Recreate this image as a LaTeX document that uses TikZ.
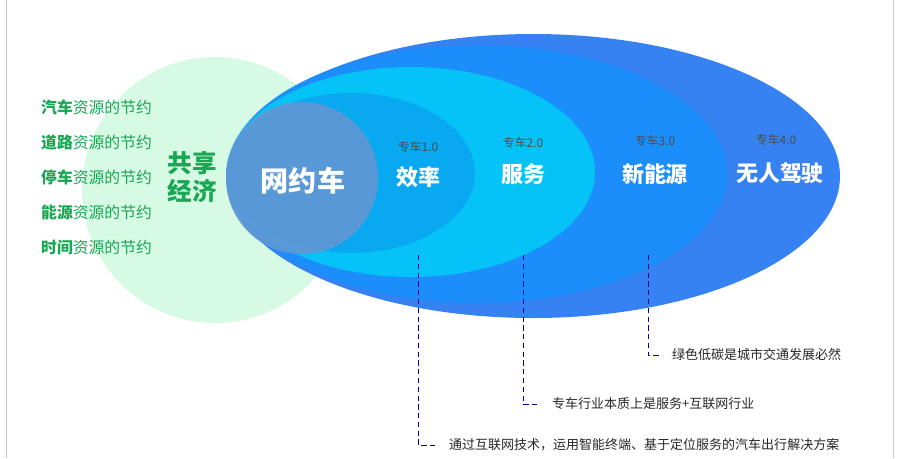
\documentclass[tikz,border=0pt]{standalone}
\usepackage{fontspec}
\setmainfont{Noto Sans CJK SC}
\definecolor{leafgreen}{HTML}{18A752}
\definecolor{mint}{HTML}{D6FAE4}
\definecolor{deepblue}{HTML}{2B7BF2}
\definecolor{midblue}{HTML}{1A8FFC}
\definecolor{skycyan}{HTML}{05C6F7}
\definecolor{innerblue}{HTML}{0AA8F2}
\definecolor{carblue}{HTML}{5E98D6}
\tikzset{
  saving/.style={anchor=west,text=leafgreen,font=\fontsize{9}{9}\selectfont},
  stage/.style={text=white,font=\bfseries\fontsize{12.5}{12.5}\selectfont},
  version/.style={text=black!70,font=\fontsize{6.8}{6.8}\selectfont},
  note/.style={anchor=west,text=black!85,font=\fontsize{7.4}{7.4}\selectfont},
  leader/.style={draw=blue!60!black,densely dashed,line width=0.5pt,shorten >=4pt}
}
\begin{document}
\begin{tikzpicture}[x=0.02cm,y=-0.02cm]
\useasboundingbox (0,0) rectangle (902,458);
\draw[black!20] (6,0) -- (6,458);
\draw[black!20] (893,0) -- (893,458);

% circles and ellipses
\fill[mint] (215,190) circle (133);
\fill[deepblue,opacity=0.95] (533,176) ellipse [x radius=307, y radius=142];
\fill[midblue,opacity=0.95] (477,174) ellipse [x radius=250, y radius=129];
\fill[skycyan,opacity=0.95] (411,172) ellipse [x radius=184, y radius=105];
\fill[innerblue,opacity=0.95] (351,173) ellipse [x radius=124, y radius=80];
\fill[carblue,opacity=0.95] (302,178) circle (76);

\node[saving] (s1) at (35,107) {\textbf{汽车}资源的节约};
\node[saving] (s2) at (35,142) {\textbf{道路}资源的节约};
\node[saving] (s3) at (35,177) {\textbf{停车}资源的节约};
\node[saving] (s4) at (35,212) {\textbf{能源}资源的节约};
\node[saving] (s5) at (35,247) {\textbf{时间}资源的节约};
\node[text=leafgreen,font=\bfseries\fontsize{14}{16}\selectfont,align=center] (share) at (192,177) {共享\\经济};

\node[text=white,font=\bfseries\fontsize{16}{16}\selectfont] (car) at (303,181) {网约车};
\node[version] (v1) at (418,147) {专车1.0};
\node[stage] (eff) at (418,177) {效率};
\node[version] (v2) at (523,143) {专车2.0};
\node[stage] (serv) at (523,174) {服务};
\node[version] (v3) at (655,141) {专车3.0};
\node[stage] (energy) at (655,174) {新能源};
\node[version] (v4) at (776,140) {专车4.0};
\node[stage] (auto) at (780,173) {无人驾驶};

% notes
\node[note] (n1) at (443,445) {通过互联网技术，运用智能终端、基于定位服务的汽车出行解决方案};
\node[note] (n2) at (546,404) {专车行业本质上是服务+互联网行业};
\node[note] (n3) at (666,355) {绿色低碳是城市交通发展必然};
\coordinate (d1) at (418,255);
\coordinate (d2) at (523,255);
\coordinate (d3) at (648,255);
\draw[leader] (d1) |- (n1.west);
\draw[leader] (d2) |- (n2.west);
\draw[leader] (d3) |- (n3.west);
\end{tikzpicture}
\end{document}
